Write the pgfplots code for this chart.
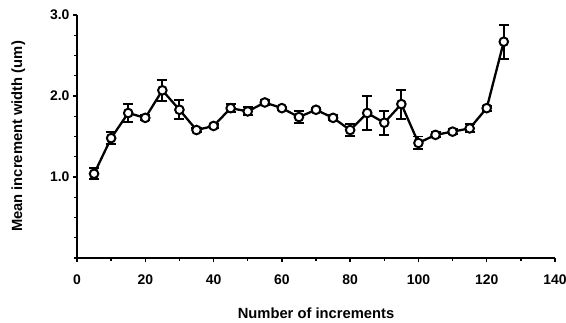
\documentclass[border=0pt]{standalone}
\usepackage{fontspec}
\setmainfont{Liberation Sans}
\usepackage{pgfplots}
\pgfplotsset{compat=1.18}
\begin{document}
\begin{tikzpicture}
\begin{axis}[
  scale only axis,
  width=478bp, height=243bp,
  xmin=0, xmax=140, ymin=0, ymax=3,
  axis lines*=left,
  axis line style={line width=1.8pt},
  tick align=outside,
  tick style={line width=1.3pt, black},
  major tick length=4bp, minor tick length=3bp,
  xtick={0,20,...,140},
  minor xtick={10,30,...,130},
  ytick={1,2,3},
  minor ytick={0,0.25,...,2.76},
  /pgf/number format/assume math mode=true,
  yticklabel style={/pgf/number format/fixed, /pgf/number format/fixed zerofill, /pgf/number format/precision=1, font=\fontsize{14}{14}\selectfont\bfseries},
  xticklabel style={font=\fontsize{14}{14}\selectfont\bfseries, yshift=-9bp},
  xlabel={Number of increments},
  ylabel={Mean increment width (um)},
  xlabel style={at={(axis description cs:0.5,0)}, anchor=base, yshift=-60bp, font=\fontsize{14.8}{16}\selectfont\bfseries},
  ylabel style={at={(axis description cs:-0.115,0.5)}, anchor=base, font=\fontsize{14.8}{16}\selectfont\bfseries},
  clip=false,
]
\coordinate (sw) at (rel axis cs:0,0);
\coordinate (ne) at (rel axis cs:1,1);
\addplot[black, line width=2.3pt, mark=*, mark size=4.3bp,
  mark options={fill=white, draw=black, line width=2pt, solid},
  error bars/.cd, y dir=both, y explicit,
  error bar style={line width=2pt, black},
  error mark options={rotate=90, mark size=5bp, line width=2pt, black}]
table[x=x, y=y, y error=e] {
x y e
5 1.04 0.07
10 1.48 0.07
15 1.79 0.11
20 1.73 0.03
25 2.07 0.13
30 1.83 0.12
35 1.58 0.02
40 1.63 0.02
45 1.85 0.05
50 1.81 0.05
55 1.92 0.03
60 1.85 0.02
65 1.74 0.07
70 1.83 0.02
75 1.73 0.03
80 1.58 0.07
85 1.79 0.21
90 1.67 0.15
95 1.90 0.18
100 1.42 0.08
105 1.52 0.03
110 1.56 0.03
115 1.60 0.05
120 1.85 0.03
125 2.67 0.21
};
\end{axis}
\pgfresetboundingbox
\path[use as bounding box] ([shift={(-77bp,-65bp)}]sw) rectangle ([shift={(11bp,15bp)}]ne);
\end{tikzpicture}
\end{document}
